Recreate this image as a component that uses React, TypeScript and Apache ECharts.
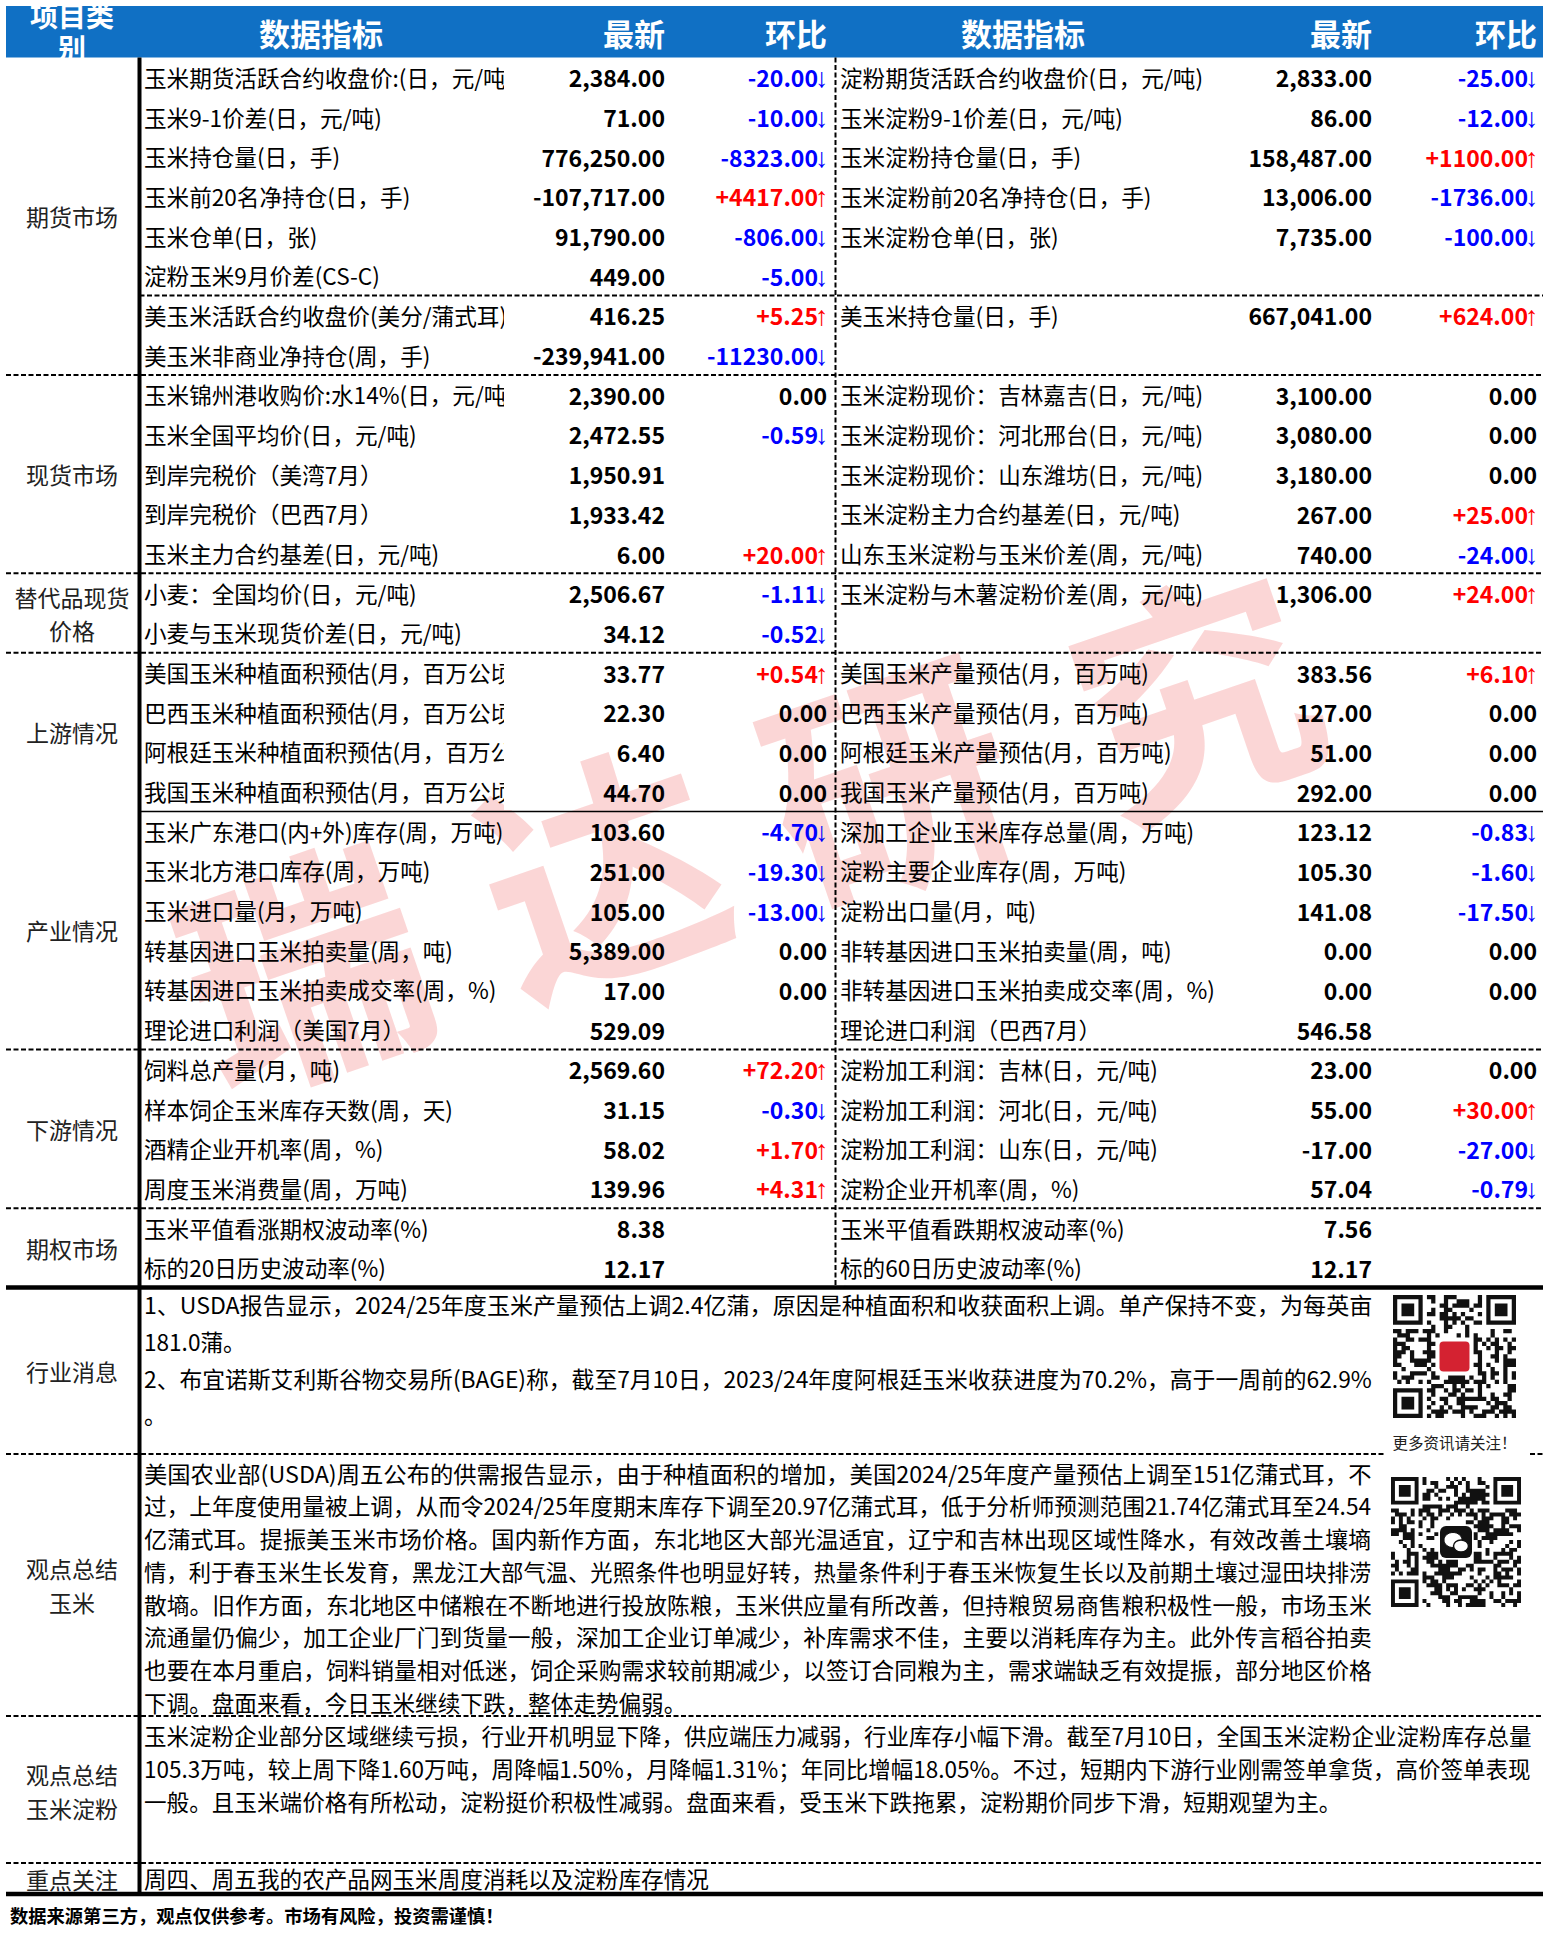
import React, { useEffect, useRef } from 'react';
import * as echarts from 'echarts';

// ---------------- data ----------------
const headerLabels = ['项目类\n别', '数据指标', '最新', '环比', '数据指标', '最新', '环比'];

const categories = ['期货市场', '现货市场', '替代品现货\n价格', '上游情况', '产业情况', '下游情况', '期权市场'];
const categoryRowSpans = [8, 5, 2, 4, 6, 4, 2];

const leftNames = [
  '玉米期货活跃合约收盘价:(日，元/吨)', '玉米9-1价差(日，元/吨)', '玉米持仓量(日，手)', '玉米前20名净持仓(日，手)',
  '玉米仓单(日，张)', '淀粉玉米9月价差(CS-C)', '美玉米活跃合约收盘价(美分/蒲式耳)', '美玉米非商业净持仓(周，手)',
  '玉米锦州港收购价:水14%(日，元/吨)', '玉米全国平均价(日，元/吨)', '到岸完税价（美湾7月）', '到岸完税价（巴西7月）',
  '玉米主力合约基差(日，元/吨)', '小麦：全国均价(日，元/吨)', '小麦与玉米现货价差(日，元/吨)',
  '美国玉米种植面积预估(月，百万公顷)', '巴西玉米种植面积预估(月，百万公顷)', '阿根廷玉米种植面积预估(月，百万公顷)',
  '我国玉米种植面积预估(月，百万公顷)', '玉米广东港口(内+外)库存(周，万吨)', '玉米北方港口库存(周，万吨)',
  '玉米进口量(月，万吨)', '转基因进口玉米拍卖量(周，吨)', '转基因进口玉米拍卖成交率(周，%)', '理论进口利润（美国7月）',
  '饲料总产量(月，吨)', '样本饲企玉米库存天数(周，天)', '酒精企业开机率(周，%)', '周度玉米消费量(周，万吨)',
  '玉米平值看涨期权波动率(%)', '标的20日历史波动率(%)',
];
const leftLatest = [
  2384, 71, 776250, -107717, 91790, 449, 416.25, -239941, 2390, 2472.55, 1950.91, 1933.42, 6, 2506.67, 34.12,
  33.77, 22.3, 6.4, 44.7, 103.6, 251, 105, 5389, 17, 529.09, 2569.6, 31.15, 58.02, 139.96, 8.38, 12.17,
];
const leftChange: (number | null)[] = [
  -20, -10, -8323, 4417, -806, -5, 5.25, -11230, 0, -0.59, null, null, 20, -1.11, -0.52,
  0.54, 0, 0, 0, -4.7, -19.3, -13, 0, 0, null, 72.2, -0.3, 1.7, 4.31, null, null,
];

const rightNames = [
  '淀粉期货活跃合约收盘价(日，元/吨)', '玉米淀粉9-1价差(日，元/吨)', '玉米淀粉持仓量(日，手)', '玉米淀粉前20名净持仓(日，手)',
  '玉米淀粉仓单(日，张)', '', '美玉米持仓量(日，手)', '',
  '玉米淀粉现价：吉林嘉吉(日，元/吨)', '玉米淀粉现价：河北邢台(日，元/吨)', '玉米淀粉现价：山东潍坊(日，元/吨)',
  '玉米淀粉主力合约基差(日，元/吨)', '山东玉米淀粉与玉米价差(周，元/吨)', '玉米淀粉与木薯淀粉价差(周，元/吨)', '',
  '美国玉米产量预估(月，百万吨)', '巴西玉米产量预估(月，百万吨)', '阿根廷玉米产量预估(月，百万吨)', '我国玉米产量预估(月，百万吨)',
  '深加工企业玉米库存总量(周，万吨)', '淀粉主要企业库存(周，万吨)', '淀粉出口量(月，吨)', '非转基因进口玉米拍卖量(周，吨)',
  '非转基因进口玉米拍卖成交率(周，%)', '理论进口利润（巴西7月）', '淀粉加工利润：吉林(日，元/吨)', '淀粉加工利润：河北(日，元/吨)',
  '淀粉加工利润：山东(日，元/吨)', '淀粉企业开机率(周，%)', '玉米平值看跌期权波动率(%)', '标的60日历史波动率(%)',
];
const rightLatest: (number | null)[] = [
  2833, 86, 158487, 13006, 7735, null, 667041, null, 3100, 3080, 3180, 267, 740, 1306, null,
  383.56, 127, 51, 292, 123.12, 105.3, 141.08, 0, 0, 546.58, 23, 55, -17, 57.04, 7.56, 12.17,
];
const rightChange: (number | null)[] = [
  -25, -12, 1100, -1736, -100, null, 624, null, 0, 0, 0, 25, -24, 24, null,
  6.1, 0, 0, 0, -0.83, -1.6, -17.5, 0, 0, null, 0, 30, -27, -0.79, null, null,
];

const newsTitle = '行业消息';
const newsLines = [
  '1、USDA报告显示，2024/25年度玉米产量预估上调2.4亿蒲，原因是种植面积和收获面积上调。单产保持不变，为每英亩',
  '181.0蒲。',
  '2、布宜诺斯艾利斯谷物交易所(BAGE)称，截至7月10日，2023/24年度阿根廷玉米收获进度为70.2%，高于一周前的62.9%',
  '。',
];
const newsJustified = [true, false, true, false];
const cornViewTitle = '观点总结\n玉米';
const cornViewLines = [
  '美国农业部(USDA)周五公布的供需报告显示，由于种植面积的增加，美国2024/25年度产量预估上调至151亿蒲式耳，不',
  '过，上年度使用量被上调，从而令2024/25年度期末库存下调至20.97亿蒲式耳，低于分析师预测范围21.74亿蒲式耳至24.54',
  '亿蒲式耳。提振美玉米市场价格。国内新作方面，东北地区大部光温适宜，辽宁和吉林出现区域性降水，有效改善土壤墒',
  '情，利于春玉米生长发育，黑龙江大部气温、光照条件也明显好转，热量条件利于春玉米恢复生长以及前期土壤过湿田块排涝',
  '散墒。旧作方面，东北地区中储粮在不断地进行投放陈粮，玉米供应量有所改善，但持粮贸易商售粮积极性一般，市场玉米',
  '流通量仍偏少，加工企业厂门到货量一般，深加工企业订单减少，补库需求不佳，主要以消耗库存为主。此外传言稻谷拍卖',
  '也要在本月重启，饲料销量相对低迷，饲企采购需求较前期减少，以签订合同粮为主，需求端缺乏有效提振，部分地区价格',
  '下调。盘面来看，今日玉米继续下跌，整体走势偏弱。',
];
const starchViewTitle = '观点总结\n玉米淀粉';
const starchViewLines = [
  '玉米淀粉企业部分区域继续亏损，行业开机明显下降，供应端压力减弱，行业库存小幅下滑。截至7月10日，全国玉米淀粉企业淀粉库存总量',
  '105.3万吨，较上周下降1.60万吨，周降幅1.50%，月降幅1.31%；年同比增幅18.05%。不过，短期内下游行业刚需签单拿货，高价签单表现',
  '一般。且玉米端价格有所松动，淀粉挺价积极性减弱。盘面来看，受玉米下跌拖累，淀粉期价同步下滑，短期观望为主。',
];
const focusTitle = '重点关注';
const focusText = '周四、周五我的农产品网玉米周度消耗以及淀粉库存情况';
const qrCaption = '更多资讯请关注！';
const footerText = '数据来源第三方，观点仅供参考。市场有风险，投资需谨慎！';
const watermarkChars = ['瑞', '达', '研', '究'];

// ---------------- helpers ----------------
const FONT = "'Noto Sans CJK SC', 'Noto Sans', sans-serif";
const fmtLatest = (v: number) =>
  v.toLocaleString('en-US', { minimumFractionDigits: 2, maximumFractionDigits: 2 });
const fmtChange = (v: number) => (v > 0 ? '+' : '') + v.toFixed(2);

function qrPath(n: number, seed: number, hole: number): string {
  const dark = (x: number, y: number): boolean => {
    const finders = [[0, 0], [n - 7, 0], [0, n - 7]];
    for (const [fx, fy] of finders) {
      const dx = x - fx, dy = y - fy;
      if (dx >= -1 && dx <= 7 && dy >= -1 && dy <= 7) {
        if (dx < 0 || dx > 6 || dy < 0 || dy > 6) return false;
        if (dx === 0 || dx === 6 || dy === 0 || dy === 6) return true;
        return dx >= 2 && dx <= 4 && dy >= 2 && dy <= 4;
      }
    }
    const c = (n - 1) / 2;
    if (Math.abs(x - c) <= hole && Math.abs(y - c) <= hole) return false;
    let h = Math.imul(x + 17, 374761393) ^ Math.imul(y + 31, 668265263) ^ Math.imul(seed, 1442695041);
    h = Math.imul(h ^ (h >>> 13), 1274126177);
    h ^= h >>> 16;
    return (h & 7) < 4;
  };
  let d = '';
  for (let y = 0; y < n; y++) for (let x = 0; x < n; x++) if (dark(x, y)) d += `M${x} ${y}h1v1h-1z`;
  return d;
}

let shapesRegistered = false;
function registerShapes() {
  if (shapesRegistered) return;
  shapesRegistered = true;
  echarts.graphic.registerShape('qrA', (echarts.graphic as any).extendPath(qrPath(29, 3, 4), {}));
  echarts.graphic.registerShape('qrB', (echarts.graphic as any).extendPath(qrPath(33, 11, 4), {}));
}

function makeMeasure() {
  const ctx = document.createElement('canvas').getContext('2d');
  return (t: string, size: number, weight = 'normal', family = FONT) => {
    if (!ctx) return t.length * size;
    ctx.font = `${weight} ${size}px ${family}`;
    return ctx.measureText(t).width;
  };
}

function buildElements() {
  const measure = makeMeasure();
  const els: any[] = [];
  const L = 6, R = 1543;
  const headTop = 6, headBot = 57.5, rowH = 39.68;
  const vx = 139.5, dvx = 835.5;
  const rowCenter = (i: number) => headBot + i * rowH + rowH / 2;
  const rowEdge = (i: number) => headBot + i * rowH;
  const LABEL = 22.6, NUM = 23, PARA = 22.6;

  const text = (x: number, y: number, t: string, o: any = {}) => {
    const style: any = {
      text: t, x: 0, y: 0, fill: o.fill || '#000', fontSize: o.size || 22, fontFamily: o.family || FONT,
      fontWeight: o.weight || 'normal', align: o.align || 'left', verticalAlign: 'middle',
    };
    if (o.lh) style.lineHeight = o.lh;
    const el: any = { type: 'text', x, y, rotation: o.rotation || 0, silent: true, z: o.z || 10, style };
    if (o.scaleX) el.scaleX = o.scaleX;
    els.push(el);
  };
  const line = (x1: number, y1: number, x2: number, y2: number, w: number, dash?: number[]) => {
    els.push({
      type: 'line', silent: true, z: 20,
      shape: { x1, y1, x2, y2 },
      style: { stroke: '#000', lineWidth: w, lineDash: dash || null },
    });
  };
  const paragraph = (x: number, y0: number, step: number, lines: string[], justified: boolean[], right: number) => {
    lines.forEach((t, k) => {
      let sx = 1;
      if (justified[k]) {
        const w = measure(t, PARA);
        if (w > 0) sx = (right - x) / w;
      }
      text(x, y0 + k * step, t, { size: PARA, scaleX: sx });
    });
  };

  // watermark
  const wmPos = [[300, 958], [598, 860], [885, 770], [1192, 684]];
  watermarkChars.forEach((ch, k) => {
    text(wmPos[k][0], wmPos[k][1], ch, {
      size: 240, weight: 'bold', fill: 'rgba(236, 70, 70, 0.22)', align: 'center', rotation: 0.33, z: 1,
    });
  });

  // header
  els.push({ type: 'rect', silent: true, z: 5, shape: { x: L, y: headTop, width: R - L, height: headBot - headTop }, style: { fill: '#1070C4' } });
  const hx = [72, 321, 665, 827, 1023, 1372, 1537];
  const ha = ['center', 'center', 'right', 'right', 'center', 'right', 'right'];
  headerLabels.forEach((h, i) => {
    text(hx[i], i === 0 ? 31 : 32, h, { size: i === 0 ? 28 : 31, weight: 'bold', fill: '#fff', align: ha[i], lh: 32 });
  });

  // rows
  const drawChange = (xr: number, y: number, v: number | null) => {
    if (v === null) return;
    if (v === 0) { text(xr, y, fmtChange(v), { size: NUM, weight: 'bold', align: 'right' }); return; }
    const col = v > 0 ? '#FF0000' : '#0000FF';
    text(xr - 9, y, fmtChange(v), { size: NUM, weight: 'bold', align: 'right', fill: col });
    text(xr + 1.5, y + 1, v > 0 ? '↑' : '↓', { size: 27, align: 'right', fill: col, family: "'Liberation Sans', 'DejaVu Sans', sans-serif" });
  };
  const labelClip = 504;
  leftNames.forEach((nm, i) => {
    const y = rowCenter(i);
    text(144, y, nm, { size: LABEL, z: 8 });
    if (144 + measure(nm, LABEL) > labelClip) {
      els.push({ type: 'rect', silent: true, z: 9, shape: { x: labelClip, y: rowEdge(i) + 1.5, width: 40, height: rowH - 3 }, style: { fill: '#fff' } });
    }
    text(665, y, fmtLatest(leftLatest[i]), { size: NUM, weight: 'bold', align: 'right' });
    drawChange(827, y, leftChange[i]);
  });
  rightNames.forEach((nm, i) => {
    const y = rowCenter(i);
    if (nm) text(840, y, nm, { size: LABEL, z: 8 });
    const v = rightLatest[i];
    if (v !== null) text(1372, y, fmtLatest(v), { size: NUM, weight: 'bold', align: 'right' });
    drawChange(1537, y, rightChange[i]);
  });

  // categories
  let acc = 0;
  categories.forEach((c, k) => {
    const y0 = rowEdge(acc), y1 = rowEdge(acc + categoryRowSpans[k]);
    text(72, (y0 + y1) / 2, c, { size: 23, align: 'center', lh: 33, fill: '#222' });
    acc += categoryRowSpans[k];
  });

  // table lines
  const dash = [5, 2.5];
  line(vx, rowEdge(6), R, rowEdge(6), 2, dash);
  [8, 13, 15, 25, 29].forEach((i) => line(L, rowEdge(i), R, rowEdge(i), 2, dash));
  line(vx, rowEdge(19), R, rowEdge(19), 1.5);
  const tableBot = rowEdge(31);
  line(dvx, headBot, dvx, tableBot, 2, dash);

  // lower sections
  const newsBot = 1454, cornBot = 1716, starchBot = 1863, focusBot = 1894;
  line(L, tableBot, R, tableBot, 4.5);
  line(L, newsBot, 1385, newsBot, 2, dash);
  line(1530, newsBot, R, newsBot, 2, dash);
  line(L, cornBot, R, cornBot, 2, dash);
  line(L, starchBot, R, starchBot, 2, dash);
  line(L, focusBot, R, focusBot, 4.5);
  line(vx, headBot, vx, focusBot, 4);

  text(72, (tableBot + newsBot) / 2, newsTitle, { size: 23, align: 'center', fill: '#222' });
  paragraph(144, 1305, 36.6, newsLines, newsJustified, 1372);
  text(72, (newsBot + cornBot) / 2, cornViewTitle, { size: 23, align: 'center', lh: 34, fill: '#222' });
  paragraph(144, 1473, 32.8, cornViewLines, cornViewLines.map((_, k) => k < cornViewLines.length - 1), 1372);
  text(72, 1791, starchViewTitle, { size: 23, align: 'center', lh: 34, fill: '#222' });
  paragraph(144, 1735, 33, starchViewLines, starchViewLines.map((_, k) => k < starchViewLines.length - 1), 1532);
  text(72, (starchBot + focusBot) / 2, focusTitle, { size: 23, align: 'center', fill: '#222' });
  text(144, (starchBot + focusBot) / 2, focusText, { size: PARA });
  text(10, 1915, footerText, { size: 18.3, weight: 'bold' });

  // QR codes
  const qa = { x: 1393, y: 1295, s: 123 };
  els.push({ type: 'qrA', x: qa.x, y: qa.y, scaleX: qa.s / 29, scaleY: qa.s / 29, silent: true, z: 10, style: { fill: '#111' } });
  els.push({ type: 'rect', x: qa.x + qa.s / 2 - 15, y: qa.y + qa.s / 2 - 15, silent: true, z: 11, shape: { width: 30, height: 30, r: 4 }, style: { fill: '#D42231' } });
  text(qa.x + qa.s / 2, 1442, qrCaption, { size: 15.5, align: 'center', fill: '#222' });

  const qb = { x: 1391, y: 1477, s: 130 };
  els.push({ type: 'qrB', x: qb.x, y: qb.y, scaleX: qb.s / 33, scaleY: qb.s / 33, silent: true, z: 10, style: { fill: '#111' } });
  const cx = qb.x + qb.s / 2, cy = qb.y + qb.s / 2;
  els.push({ type: 'rect', x: cx - 16, y: cy - 16, silent: true, z: 11, shape: { width: 32, height: 32, r: 6 }, style: { fill: '#111' } });
  els.push({ type: 'ellipse', x: cx - 3, y: cy - 2, silent: true, z: 12, shape: { cx: 0, cy: 0, rx: 9, ry: 7.5 }, style: { fill: '#fff', stroke: '#111', lineWidth: 1 } });
  els.push({ type: 'ellipse', x: cx + 5, y: cy + 4, silent: true, z: 13, shape: { cx: 0, cy: 0, rx: 7.5, ry: 6 }, style: { fill: '#fff', stroke: '#111', lineWidth: 1.5 } });

  return els;
}

export default function App() {
  const ref = useRef<HTMLDivElement>(null);
  useEffect(() => {
    if (!ref.current) return;
    registerShapes();
    const chart = echarts.init(ref.current, undefined, { renderer: 'svg' });
    chart.setOption({
      animation: false,
      backgroundColor: '#fff',
      graphic: { elements: buildElements() },
    });
    return () => chart.dispose();
  }, []);
  return (
    <div
      ref={ref}
      style={{ position: 'absolute', left: 0, top: 0, width: 1543, height: 1933, background: '#fff' }}
    />
  );
}
